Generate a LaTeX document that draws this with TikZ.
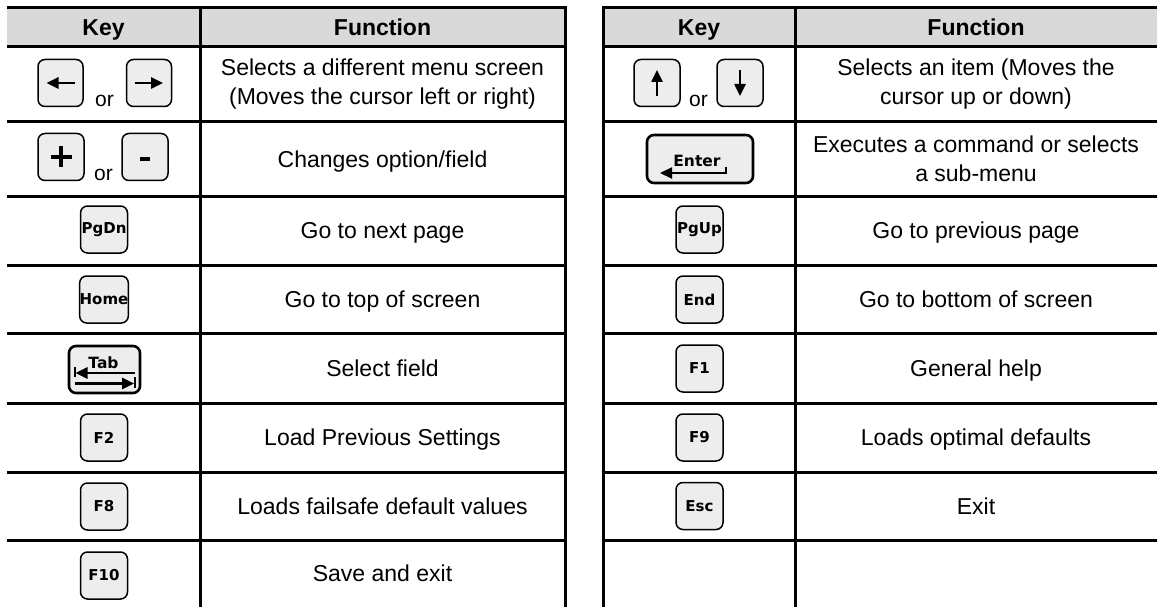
\documentclass[tikz,border=0pt]{standalone}
\usepackage{fontspec}
\setmainfont{Liberation Sans}
\newfontfamily\keyfont{DejaVu Sans}
\usepackage{tikz}
\usetikzlibrary{positioning, arrows.meta}
\definecolor{headfill}{HTML}{D9D9D9}
\definecolor{keyfill}{HTML}{EDEDED}

\begin{document}
\begin{tikzpicture}[x=1pt, y=-1pt, line width=3pt,
  key node/.style={draw, fill=keyfill, rounded corners=7pt, line width=1.5pt,
    minimum width=47pt, minimum height=47pt, inner sep=0pt,
    font=\keyfont\bfseries\fontsize{15}{17}\selectfont},
  big key/.style={key node, line width=2.6pt},
  key label/.style={anchor=base, inner sep=0pt, font=\keyfont\bfseries\fontsize{15.5}{17}\selectfont},
  cell text/.style={align=center, font=\fontsize{23}{29}\selectfont},
  one line/.style={cell text, text height=16.5pt, text depth=0pt},
  head text/.style={font=\bfseries\fontsize{23}{28}\selectfont, text height=16.5pt, text depth=0pt},
  or text/.style={anchor=base, inner sep=0pt, font=\fontsize{21}{24}\selectfont},
  key arrow/.style={line width=2.5pt, -{Triangle[length=12pt, width=11pt]}},
  tab bar/.style={line width=2.2pt}]

\useasboundingbox (0,0) rectangle (1157,607);

\fill[headfill] (7,8) rectangle (565,47);
\fill[headfill] (603,8) rectangle (1157,47);

\foreach \y in {8,47,122,196,265,333,403,472,540} {
  \draw (7,\y) -- (565,\y);
  \draw (603,\y) -- (1157,\y);
}
\foreach \x in {200,565,603,795}
  \draw (\x,6.5) -- (\x,607);

\node[head text] (hdKeyL) at (103.5,27.5) {Key};
\node[head text] (hdFunL) at (382.5,27.5) {Function};
\node[head text] (hdKeyR) at (699,27.5) {Key};
\node[head text] (hdFunR) at (976,27.5) {Function};

% left table keys
\node[key node, minimum width=45pt] (keyLeft) at (60.5,83) {};
\node[key node, minimum width=45pt] (keyRight) at (149,83) {};
\node[or text] (orLR) at (104.5,106.5) {or};
\draw[key arrow] (keyLeft.center) ++(14,0) -- ++(-28,0);
\draw[key arrow] (keyRight.center) ++(-14,0) -- ++(28,0);

\node[key node, minimum width=46pt] (keyPlus) at (61,157) {};
\node[key node, minimum width=46pt] (keyMinus) at (145,157) {};
\node[or text] (orPM) at (103.5,180.5) {or};
\draw[line width=3.3pt] (keyPlus.center) ++(-10.5,0) -- ++(21,0)
  (keyPlus.center) ++(0,-10.5) -- ++(0,21);
\draw[line width=4pt] (keyMinus.center) ++(-5,2) -- ++(10,0);

\node[key node] (keyPgDn) at (104,229.5) {PgDn};
\node[key node] (keyHome) at (104,299.5) {Home};

\node[big key, minimum width=71pt] (keyTab) at (104.5,369.5) {};
\path (keyTab.center) ++(-1,-1.5) node[key label] (tabText) {Tab};
\draw[key arrow] (keyTab.center) ++(30,3.5) -- ++(-59,0);
\draw[tab bar] (keyTab.center) ++(-29.5,-2.5) -- ++(0,10);
\draw[key arrow] (keyTab.center) ++(-29.5,14) -- ++(59,0);
\draw[tab bar] (keyTab.center) ++(30.5,7.5) -- ++(0,11);

\node[key node] (keyFtwo) at (104,437.5) {F2};
\node[key node] (keyFeight) at (104,506.5) {F8};
\node[key node] (keyFten) at (104,575.5) {F10};

% left table texts
\node[cell text] (fnLeftRight) at (382.5,84.5) {Selects a different menu screen\\(Moves the cursor left or right)};
\node[one line] (fnPlusMinus) at (382.5,159) {Changes option/field};
\node[one line] (fnPgDn) at (382.5,230.5) {Go to next page};
\node[one line] (fnHome) at (382.5,299) {Go to top of screen};
\node[one line] (fnTab) at (382.5,368) {Select field};
\node[one line] (fnFtwo) at (382.5,437.5) {Load Previous Settings};
\node[one line] (fnFeight) at (382.5,506) {Loads failsafe default values};
\node[one line] (fnFten) at (382.5,573.5) {Save and exit};

% right table keys
\node[key node, minimum width=46pt] (keyUp) at (657,83) {};
\node[key node, minimum width=46pt] (keyDown) at (740,83) {};
\node[or text] (orUD) at (698.5,106.5) {or};
\draw[key arrow] (keyUp.center) ++(0,13) -- ++(0,-26);
\draw[key arrow] (keyDown.center) ++(0,-13) -- ++(0,26);

\node[big key, minimum width=106pt, minimum height=48pt] (keyEnter) at (700,159) {};
\path (keyEnter.center) ++(-3,8) node[key label] (enterText) {Enter};
\draw[key arrow, line width=2.2pt] (keyEnter.center) ++(26,8) -- ++(0,6) -- ++(-66,0);

\node[key node] (keyPgUp) at (699.5,229.5) {PgUp};
\node[key node] (keyEnd) at (699.5,299.5) {End};
\node[key node] (keyFone) at (699.5,368.5) {F1};
\node[key node] (keyFnine) at (699.5,437.5) {F9};
\node[key node] (keyEsc) at (699.5,506) {Esc};

% right table texts
\node[cell text] (fnUpDown) at (976,84.5) {Selects an item (Moves the\\cursor up or down)};
\node[cell text] (fnEnter) at (976,159) {Executes a command or selects\\a sub-menu};
\node[one line] (fnPgUp) at (976,230.5) {Go to previous page};
\node[one line] (fnEnd) at (976,299) {Go to bottom of screen};
\node[one line] (fnFone) at (976,368) {General help};
\node[one line] (fnFnine) at (976,437.5) {Loads optimal defaults};
\node[one line] (fnEsc) at (976,506) {Exit};

\end{tikzpicture}
\end{document}
